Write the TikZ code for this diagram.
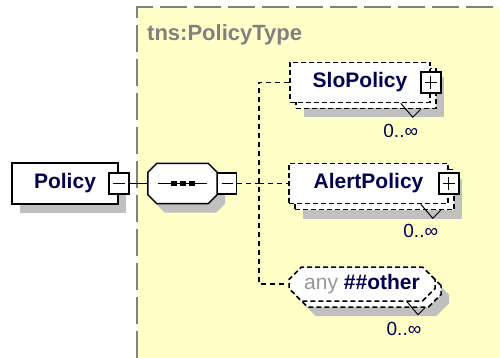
\documentclass[tikz,border=0pt]{standalone}
\usepackage{fontspec}
\setmainfont{Liberation Sans}
\usetikzlibrary{shapes.misc,shadows}

\definecolor{typebg}{RGB}{255,255,200}
\definecolor{shadowgray}{RGB}{192,192,192}
\definecolor{namecol}{RGB}{0,0,80}
\definecolor{typegray}{RGB}{128,128,128}
\definecolor{anygray}{RGB}{150,150,150}

\tikzset{
  boxshadow/.style={drop shadow={shadow xshift=8pt,shadow yshift=-9pt,opacity=1,fill=shadowgray}},
  elem/.style={draw=black,line width=1.5pt,fill=white,minimum height=40pt,inner xsep=4pt,
    font=\fontsize{21}{25}\selectfont\bfseries,text=namecol},
  optelem/.style={elem,dash pattern=on 5pt off 3pt,
    drop shadow={shadow xshift=14pt,shadow yshift=-15pt,opacity=1,fill=shadowgray},
    copy shadow={shadow xshift=6pt,shadow yshift=-6pt,opacity=1,draw=black,fill=white,
      line width=1.5pt,dash pattern=on 5pt off 3pt}},
  seqbox/.style={rectangle,minimum width=69pt,minimum height=40pt,inner sep=0pt},
  seqline/.style={draw=black,line width=1.5pt,fill=white,boxshadow},
  pmbox/.style={draw=black,line width=1.5pt,fill=white,minimum width=20pt,minimum height=21pt,inner sep=0pt},
  minusbox/.style={pmbox,path picture={
    \draw[line width=1.3pt] ([xshift=4pt]path picture bounding box.west) -- ([xshift=-4pt]path picture bounding box.east);}},
  plusbox/.style={pmbox,path picture={
    \draw[line width=1.3pt] ([xshift=4pt]path picture bounding box.west) -- ([xshift=-4pt]path picture bounding box.east);
    \draw[line width=1.3pt] ([yshift=-4pt]path picture bounding box.north) -- ([yshift=4pt]path picture bounding box.south);}},
  conn/.style={line width=1.3pt,dash pattern=on 5pt off 4pt},
  occurs/.style={font=\fontsize{19}{22}\selectfont,text=namecol,inner sep=0pt},
  notch/.style={line width=1pt},
  typename/.style={font=\fontsize{22}{26}\selectfont\bfseries,text=typegray,inner sep=0pt},
}

\begin{document}
\begin{tikzpicture}[x=1pt,y=-1pt]
  \useasboundingbox (0,0) rectangle (500,358);
  \fill[white] (0,0) rectangle (500,358);
  % complex type area
  \fill[typebg] (137,7) rectangle (500,358);
  \draw[typegray,line width=1.5pt,dash pattern=on 27pt off 7pt] (137,358) -- (137,7) -- (500,7);
  \node[typename,anchor=west] (ptype) at (147,35) {tns:PolicyType};

  % root element and sequence
  \node[elem,boxshadow,minimum width=106pt,minimum height=41pt] (policy) at (65,183.5) {Policy};
  \node[minusbox] (policypm) at (policy.east) {};
  \node[seqbox] (seq) at (182.5,183.5) {};
  \path[seqline] ([xshift=9pt]seq.north west) -- ([xshift=-9pt]seq.north east)
    -- ([yshift=-9pt]seq.north east) -- ([yshift=9pt]seq.south east)
    -- ([xshift=-9pt]seq.south east) -- ([xshift=9pt]seq.south west)
    -- ([yshift=9pt]seq.south west) -- ([yshift=-9pt]seq.north west) -- cycle;
  \node[minusbox,minimum width=19pt] (seqpm) at ([xshift=10pt]seq.east) {};
  \draw[line width=1.3pt] ([xshift=10pt]seq.west) -- ([xshift=-10pt]seq.east);
  \foreach \dx in {-9,0,9}
    \fill ([xshift=\dx pt]seq.center) +(-3,-2.5) rectangle +(3,2.5);

  % child elements
  \node[optelem,minimum width=140pt] (slo) at (360,82.5) {SloPolicy};
  \node[plusbox] (slopm) at (slo.east) {};
  \node[optelem,minimum width=159pt] (alert) at (368.5,183.5) {AlertPolicy};
  \node[plusbox] (alertpm) at (alert.east) {};
  \node[optelem,chamfered rectangle,chamfered rectangle xsep=9pt,minimum width=146pt,minimum height=34pt]
    (other) at (362,284) {\textcolor{anygray}{\mdseries any} \#\#other};

  % occurrences
  \draw[notch] ([xshift=-30pt]slo.south east) -- ++(12,14) -- ++(8,-8);
  \draw[notch] ([xshift=-28pt]alert.south east) -- ++(12,14) -- ++(8,-8);
  \draw[notch] ([xshift=45pt]other.south) -- ++(11,13) -- ++(7,-7);
  \node[occurs] (slooc) at ([shift={(-30,28)}]slo.south east) {0..∞};
  \node[occurs] (alertoc) at ([shift={(-28,27)}]alert.south east) {0..∞};
  \node[occurs] (otheroc) at ([shift={(42,27)}]other.south) {0..∞};

  % connectors
  \coordinate (fork) at (259,183.5);
  \draw[line width=1.5pt] (policypm.east) -- (seq.west);
  \draw[conn] (seqpm.east) -- (fork);
  \draw[conn] (slo.west) -| (fork) |- (other.west);
  \draw[conn] (fork) -- (alert.west);
\end{tikzpicture}
\end{document}
